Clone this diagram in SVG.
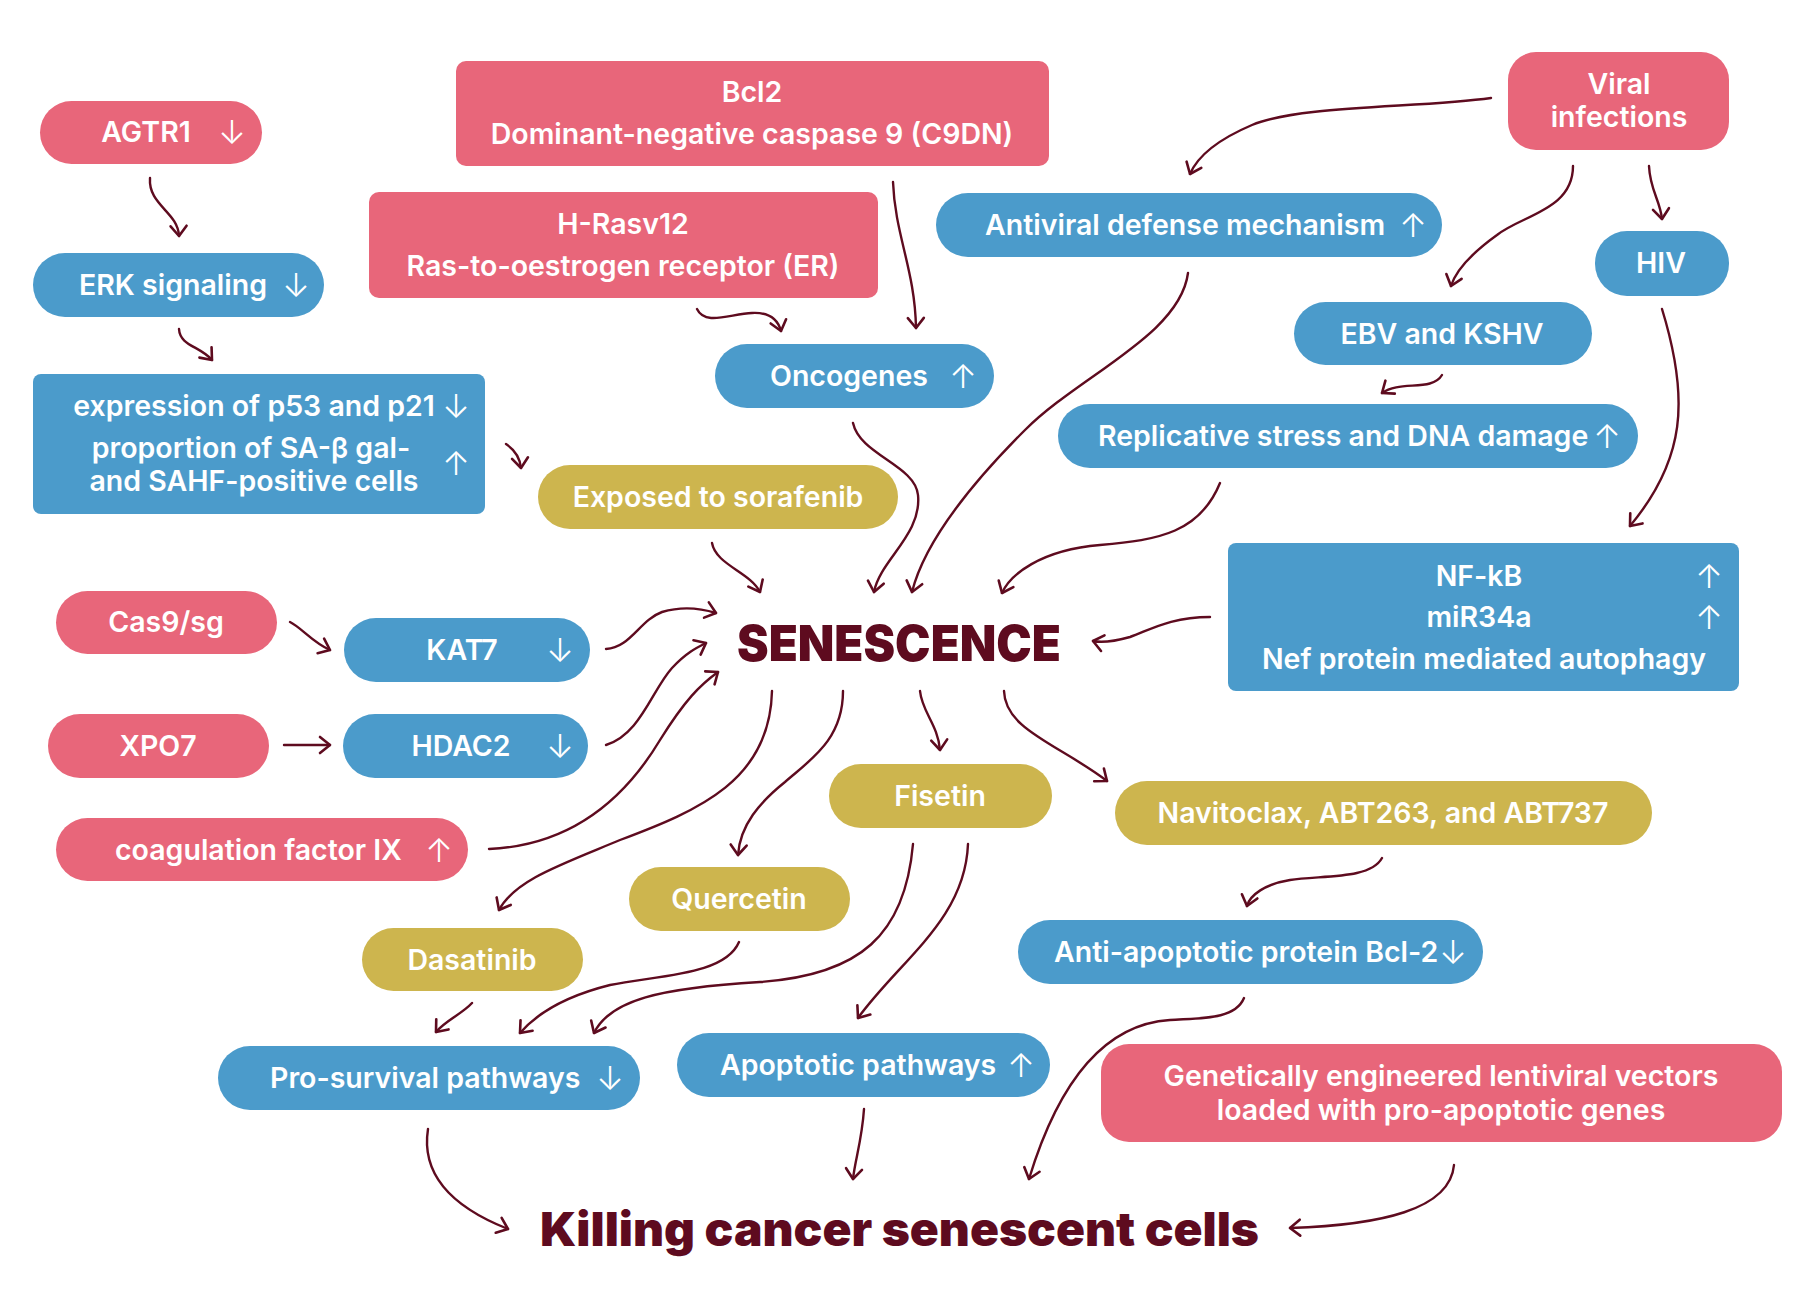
<svg xmlns="http://www.w3.org/2000/svg" width="1800" height="1300" viewBox="0 0 1800 1300">
<defs>
<marker id="ah" markerUnits="userSpaceOnUse" markerWidth="30" markerHeight="30" viewBox="-15 -15 30 30" refX="0" refY="0" orient="auto">
<path d="M-10,-8 L0,0 L-10,8" fill="none" stroke="#5E0B1F" stroke-width="2.6" stroke-linecap="round" stroke-linejoin="round"/>
</marker>
<style>
.pk{fill:#E8667A}
.bl{fill:#4B9BCB}
.gd{fill:#CDB54E}
.t{font-family:Inter,"Noto Sans","Liberation Sans",sans-serif;font-weight:600;font-size:28.5px;fill:#FFFFFF}
.c{text-anchor:middle}
.ar{font-family:Inter,"DejaVu Sans",sans-serif;font-weight:300;font-size:33px;fill:#FFFFFF;text-anchor:middle}
.big{font-family:Inter,"Liberation Sans",sans-serif;font-weight:900;fill:#5E0B1F}
.con path{fill:none;stroke:#5E0B1F;stroke-width:2.4;stroke-linecap:round;marker-end:url(#ah)}
</style>
</defs>
<rect width="1800" height="1300" fill="#FFFFFF"/>

<g id="agtr1"><rect class="pk" x="40" y="101" width="222" height="63" rx="31.5"/><text class="t c" x="146" y="142">AGTR1</text><text class="ar" x="232" y="144">↓</text></g>
<g id="bcl2"><rect class="pk" x="456" y="61" width="593" height="105" rx="10"/><text class="t c" x="752" y="102">Bcl2</text><text class="t c" x="752" y="144">Dominant-negative caspase 9 (C9DN)</text></g>
<g id="hras"><rect class="pk" x="369" y="192" width="509" height="106" rx="10"/><text class="t c" x="623" y="234">H-Rasv12</text><text class="t c" x="623" y="276">Ras-to-oestrogen receptor (ER)</text></g>
<g id="erk"><rect class="bl" x="33" y="253" width="291" height="64" rx="32"/><text class="t c" x="173" y="295">ERK signaling</text><text class="ar" x="296" y="297">↓</text></g>
<g id="expr"><rect class="bl" x="33" y="374" width="452" height="140" rx="8"/><text class="t c" x="254" y="416">expression of p53 and p21</text><text class="ar" x="456" y="418">↓</text><text class="t c" x="251" y="458">proportion of SA-β gal-</text><text class="t c" x="254" y="491">and SAHF-positive cells</text><text class="ar" x="456" y="475">↑</text></g>
<g id="onco"><rect class="bl" x="715" y="344" width="279" height="64" rx="32"/><text class="t" x="770" y="386">Oncogenes</text><text class="ar" x="963" y="388">↑</text></g>
<g id="sora"><rect class="gd" x="538" y="465" width="360" height="64" rx="32"/><text class="t c" x="718" y="507">Exposed to sorafenib</text></g>
<g id="viral"><rect class="pk" x="1508" y="52" width="221" height="98" rx="28"/><text class="t c" x="1619" y="94">Viral</text><text class="t c" x="1619" y="127">infections</text></g>
<g id="antiviral"><rect class="bl" x="936" y="193" width="506" height="64" rx="32"/><text class="t" x="985" y="235">Antiviral defense mechanism</text><text class="ar" x="1413" y="237">↑</text></g>
<g id="hiv"><rect class="bl" x="1595" y="231" width="134" height="65" rx="32"/><text class="t c" x="1661" y="273">HIV</text></g>
<g id="ebv"><rect class="bl" x="1294" y="302" width="298" height="63" rx="31.5"/><text class="t c" x="1442" y="344">EBV and KSHV</text></g>
<g id="repl"><rect class="bl" x="1058" y="404" width="580" height="64" rx="32"/><text class="t" x="1098" y="446">Replicative stress and DNA damage</text><text class="ar" x="1607" y="448">↑</text></g>
<g id="nfkb"><rect class="bl" x="1228" y="543" width="511" height="148" rx="8"/><text class="t c" x="1479" y="586">NF-kB</text><text class="ar" x="1709" y="588">↑</text><text class="t c" x="1479" y="627">miR34a</text><text class="ar" x="1709" y="629">↑</text><text class="t c" x="1484" y="669">Nef protein mediated autophagy</text></g>
<g id="senescence"><text class="big" x="737" y="661" font-size="50" textLength="324" lengthAdjust="spacingAndGlyphs">SENESCENCE</text></g>
<g id="cas9"><rect class="pk" x="56" y="591" width="221" height="63" rx="31.5"/><text class="t c" x="166" y="632">Cas9/sg</text></g>
<g id="kat7"><rect class="bl" x="344" y="618" width="246" height="64" rx="32"/><text class="t c" x="462" y="660">KAT7</text><text class="ar" x="560" y="662">↓</text></g>
<g id="xpo7"><rect class="pk" x="48" y="714" width="221" height="64" rx="32"/><text class="t c" x="158" y="756">XPO7</text></g>
<g id="hdac2"><rect class="bl" x="343" y="714" width="245" height="64" rx="32"/><text class="t c" x="461" y="756">HDAC2</text><text class="ar" x="560" y="758">↓</text></g>
<g id="coag"><rect class="pk" x="56" y="818" width="412" height="63" rx="31.5"/><text class="t" x="115" y="860">coagulation factor IX</text><text class="ar" x="439" y="862">↑</text></g>
<g id="quercetin"><rect class="gd" x="629" y="867" width="221" height="64" rx="32"/><text class="t c" x="739" y="909">Quercetin</text></g>
<g id="dasatinib"><rect class="gd" x="362" y="928" width="221" height="63" rx="31.5"/><text class="t c" x="472" y="970">Dasatinib</text></g>
<g id="prosurv"><rect class="bl" x="218" y="1046" width="422" height="64" rx="32"/><text class="t" x="270" y="1088">Pro-survival pathways</text><text class="ar" x="610" y="1090">↓</text></g>
<g id="apopt"><rect class="bl" x="677" y="1033" width="373" height="64" rx="32"/><text class="t" x="720" y="1075">Apoptotic pathways</text><text class="ar" x="1021" y="1077">↑</text></g>
<g id="fisetin"><rect class="gd" x="829" y="764" width="223" height="64" rx="32"/><text class="t c" x="940" y="806">Fisetin</text></g>
<g id="navito"><rect class="gd" x="1115" y="781" width="537" height="64" rx="32"/><text class="t c" x="1383" y="823">Navitoclax, ABT263, and ABT737</text></g>
<g id="antiapop"><rect class="bl" x="1018" y="920" width="465" height="64" rx="32"/><text class="t" x="1054" y="962">Anti-apoptotic protein Bcl-2</text><text class="ar" x="1453" y="964">↓</text></g>
<g id="lenti"><rect class="pk" x="1101" y="1044" width="681" height="98" rx="28"/><text class="t c" x="1441" y="1086">Genetically engineered lentiviral vectors</text><text class="t c" x="1441" y="1120">loaded with pro-apoptotic genes</text></g>
<g id="killing"><text class="big" x="540" y="1246" font-size="47" textLength="719" lengthAdjust="spacingAndGlyphs">Killing cancer senescent cells</text></g>

<g id="connectors" class="con">
<path d="M150,178 C148,205 178,212 179,236"/>
<path d="M179,329 C180,346 200,346 212,360"/>
<path d="M506,444 C515,450 520,458 521,468"/>
<path d="M697,309 C705,326 730,314 752,313 C770,312 778,320 781,331"/>
<path d="M893,182 C895,235 915,270 916,328"/>
<path d="M853,423 C860,455 915,465 918,495 C922,535 880,560 874,592"/>
<path d="M712,543 C716,565 750,572 760,592"/>
<path d="M1188,273 C1180,335 1080,375 1025,430 C975,480 925,540 912,592"/>
<path d="M1491,98 C1420,108 1300,105 1252,125 C1212,142 1196,160 1190,174"/>
<path d="M1573,166 C1573,210 1522,215 1497,235 C1472,253 1456,270 1451,286"/>
<path d="M1649,166 C1650,190 1660,200 1662,219"/>
<path d="M1662,309 C1690,400 1685,460 1630,526"/>
<path d="M1442,375 C1432,392 1400,380 1382,393"/>
<path d="M1220,483 C1200,532 1160,540 1100,545 C1040,550 1010,575 1002,593"/>
<path d="M1210,617 C1170,617 1150,630 1130,637 C1112,642 1102,643 1093,641"/>
<path d="M290,622 C302,628 312,642 330,650"/>
<path d="M284,745 L330,745"/>
<path d="M606,649 C630,648 640,620 662,612 C682,606 700,608 716,613"/>
<path d="M606,745 C640,735 652,690 672,668 C686,653 696,648 706,643"/>
<path d="M489,849 C580,845 630,790 660,740 C685,700 700,685 718,672"/>
<path d="M772,691 C770,780 700,810 620,840 C560,865 515,880 499,910"/>
<path d="M843,691 C843,740 810,760 785,782 C760,802 740,825 738,855"/>
<path d="M920,691 C922,712 938,725 940,750"/>
<path d="M1004,691 C1005,730 1060,745 1107,781"/>
<path d="M1382,858 C1370,880 1320,875 1290,880 C1265,884 1250,895 1247,906"/>
<path d="M1244,998 C1235,1020 1200,1018 1170,1020 C1090,1025 1050,1110 1029,1179"/>
<path d="M1454,1165 C1450,1210 1380,1225 1290,1228"/>
<path d="M739,942 C725,975 660,975 610,985 C570,995 540,1010 520,1033"/>
<path d="M472,1003 C462,1014 446,1020 436,1032"/>
<path d="M913,844 C905,935 860,975 760,982 C660,988 610,1000 594,1033"/>
<path d="M968,844 C965,920 900,960 858,1018"/>
<path d="M428,1129 C420,1180 460,1210 508,1229"/>
<path d="M864,1109 C862,1140 855,1160 853,1179"/>
</g>
</svg>
